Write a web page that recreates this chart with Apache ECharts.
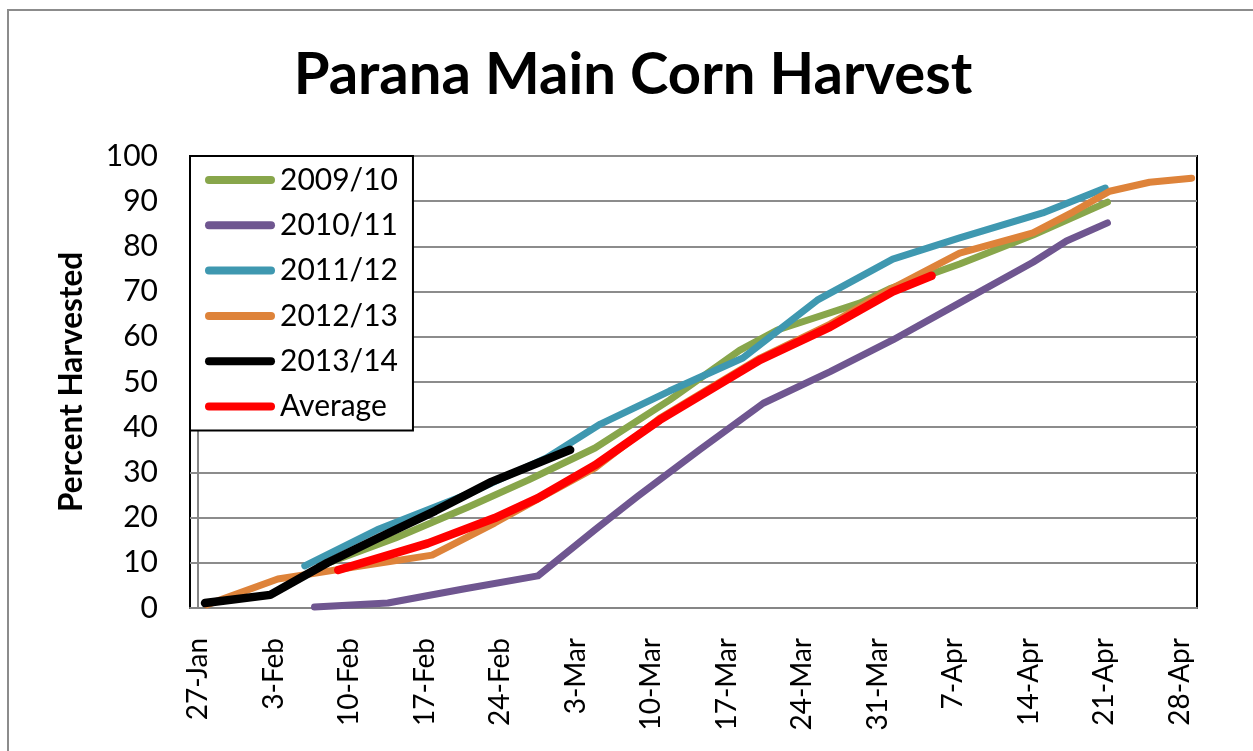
<!DOCTYPE html>
<html>
<head>
<meta charset="utf-8">
<script src="https://cdn.jsdelivr.net/npm/echarts@6/dist/echarts.min.js"></script>
<style>
html,body{margin:0;padding:0;background:#fff;}
#chart{width:1253px;height:751px;}
</style>
</head>
<body>
<div id="chart"></div>
<script>
// x positions are days after 27-Jan
const tickDays = [0, 7, 14, 21, 28, 35, 42, 49, 56, 63, 70, 77, 84, 91];
const tickLabels = ['27-Jan', '3-Feb', '10-Feb', '17-Feb', '24-Feb', '3-Mar', '10-Mar',
  '17-Mar', '24-Mar', '31-Mar', '7-Apr', '14-Apr', '21-Apr', '28-Apr'];

const seriesNames = ['2009/10', '2010/11', '2011/12', '2012/13', '2013/14', 'Average'];

const s2009 = [[11.3, 9.3], [18.3, 15.5], [25.0, 22.3], [30.6, 28.3], [36.8, 35.4], [43.7, 46.0],
  [50.2, 57.0], [53.7, 61.5], [61.4, 67.5], [64.1, 70.6], [70.6, 76.1], [77.4, 82.5], [84.3, 89.8]];
const s2010 = [[10.8, 0.2], [17.6, 1.1], [24.6, 4.2], [31.5, 7.1], [36.8, 17.3], [40.7, 24.6],
  [46.5, 35.0], [52.4, 45.3], [58.6, 52.3], [64.4, 59.3], [70.6, 67.5], [77.4, 76.5], [80.5, 81.2], [84.3, 85.2]];
const s2011 = [[9.9, 9.3], [16.6, 17.3], [25.2, 25.4], [32.3, 33.2], [37.3, 40.7], [43.7, 48.0],
  [50.5, 55.3], [57.4, 68.1], [64.4, 77.2], [70.6, 81.9], [78.3, 87.4], [84.1, 92.9]];
const s2012 = [[0.8, 0.7], [7.4, 6.4], [14.6, 9.1], [21.7, 11.7], [27.5, 18.8], [32.2, 25.0],
  [36.8, 31.0], [42.8, 42.0], [52.1, 55.3], [58.6, 62.8], [64.4, 70.8], [70.6, 78.5], [77.4, 83.0],
  [81.1, 87.6], [84.5, 92.2], [88.2, 94.2], [92.1, 95.1]];
const s2013 = [[0.65, 1.1], [6.7, 2.9], [12.0, 10.0], [16.9, 15.7], [22.0, 21.5], [27.2, 27.9], [34.5, 35.0]];
const sAvg = [[13.0, 8.4], [21.3, 14.3], [27.5, 19.9], [31.5, 24.3], [36.8, 31.6], [42.8, 41.6],
  [52.1, 54.9], [58.6, 62.2], [64.4, 70.0], [68.0, 73.5]];

const seriesData = [s2009, s2010, s2011, s2012, s2013, sAvg];
const colors = ['#88a64b', '#6f5690', '#3f98b0', '#de833a', '#000000', '#ff0000'];
const widths = [7, 7, 7, 7, 8.5, 8.5];

const FONT = 'Lato, "Open Sans", sans-serif';
const chart = echarts.init(document.getElementById('chart'), null, {renderer: 'canvas'});

const option = {
  animation: false,
  backgroundColor: '#fff',
  graphic: [{
    type: 'rect',
    shape: {x: 8, y: 10, width: 1300, height: 800},
    style: {fill: 'none', stroke: '#8c8c8c', lineWidth: 2},
    silent: true, z: -10
  }],
  title: {
    text: 'Parana Main Corn Harvest',
    left: 628,
    top: 39,
    textAlign: 'center',
    textStyle: {fontFamily: FONT, fontWeight: 'bold', fontSize: 58, color: '#000', lineHeight: 62}
  },
  legend: {
    orient: 'vertical',
    left: 190,
    top: 156,
    padding: [9, 15, 9, 15],
    itemGap: 15.3,
    itemWidth: 70,
    itemHeight: 8,
    icon: 'path://M4,0 L66,0 A4,4 0 0 1 66,8 L4,8 A4,4 0 0 1 4,0 Z',
    borderColor: '#000',
    borderWidth: 2,
    backgroundColor: '#fff',
    textStyle: {fontFamily: FONT, fontSize: 30, color: '#000', lineHeight: 30},
    data: seriesNames
  },
  grid: {
    left: 190, right: 56, top: 156, bottom: 143,
    show: true, borderColor: '#000', borderWidth: 2, backgroundColor: 'transparent'
  },
  xAxis: {
    type: 'value',
    min: -0.74,
    max: 92.6,
    axisLine: {show: true, lineStyle: {color: '#868686', width: 2}},
    axisTick: {show: false},
    splitLine: {show: false},
    axisLabel: {
      customValues: tickDays,
      formatter: function (v) { return tickLabels[tickDays.indexOf(Math.round(v))] || ''; },
      rotate: 90,
      margin: 30,
      fontFamily: FONT,
      fontSize: 28,
      color: '#000'
    }
  },
  yAxis: {
    type: 'value',
    min: 0, max: 100, interval: 10,
    name: 'Percent Harvested',
    nameLocation: 'middle',
    nameGap: 102,
    nameTextStyle: {fontFamily: FONT, fontWeight: 'bold', fontSize: 31.5, color: '#000'},
    axisLine: {show: true, lineStyle: {color: '#868686', width: 2}},
    axisTick: {show: false},
    splitLine: {show: true, lineStyle: {color: '#8c8c8c', width: 2}},
    axisLabel: {margin: 32, fontFamily: FONT, fontSize: 30, color: '#000'}
  },
  series: seriesNames.map(function (name, i) {
    return {
      name: name,
      type: 'line',
      data: seriesData[i],
      showSymbol: false,
      symbol: 'none',
      color: colors[i],
      lineStyle: {color: colors[i], width: widths[i], cap: 'round', join: 'round'},
      z: 2 + i
    };
  })
};
chart.setOption(option);
</script>
</body>
</html>
